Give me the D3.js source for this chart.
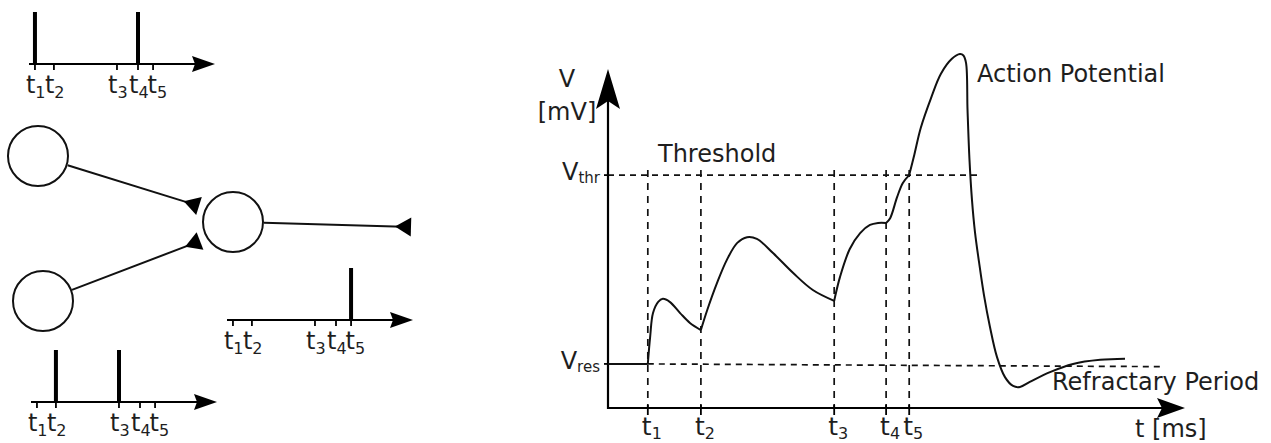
<!doctype html>
<html>
<head>
<meta charset="utf-8">
<script src="https://cdnjs.cloudflare.com/ajax/libs/d3/7.8.5/d3.min.js"></script>
<style>
  body { margin: 0; background: #fff; }
  svg { display: block; font-family: "DejaVu Sans", sans-serif; }
  text { fill: #1e1e1e; }
  .ax { stroke: #000; stroke-width: 2.2; fill: none; }
  .tick { stroke: #000; stroke-width: 1.8; }
  .dash { stroke: #111; stroke-width: 1.7; stroke-dasharray: 6 5; fill: none; }
  .vdash { stroke: #111; stroke-width: 1.7; stroke-dasharray: 7 6; fill: none; }
  .trace { stroke: #111; stroke-width: 2; fill: none; stroke-linejoin: round; }
  .neuron { fill: #fff; stroke: #111; stroke-width: 2; }
  .syn { stroke: #111; stroke-width: 2; }
  .spike { stroke: #000; stroke-width: 4; }
</style>
</head>
<body>
<svg id="fig" width="1271" height="443"></svg>
<script>
// subscripts used for every time label
var tickNames = ["1", "2", "3", "4", "5"];

// spike trains on the left (train time units, 0..100 along each axis)
var trainTimes = [3.2, 13.4, 47.3, 58.6, 66.7];
var spikesA = [0, 3];     // upper input fires at t1, t4
var spikesB = [1, 2];     // lower input fires at t2, t3
var spikesOut = [4];      // output neuron fires at t5

// membrane potential panel
var vTicks = [6.9, 16.1, 39.2, 48.2, 52.2];   // t1..t5
var vRest = 13;
var vThr = 68.7;
var traceT = [0, 6.9, 7.3, 7.8, 8.7, 9.5, 10.7, 12.5, 14.2, 16.1, 17.2, 18.9, 20.6, 22.4, 24.1,
  25.8, 28.6, 32.1, 35.5, 39.2, 40.2, 41.9, 43.7, 45.4, 46.8, 48.2, 48.9, 50.1, 51.1, 52.2,
  53.1, 54.2, 56.0, 57.7, 59.6, 61.0, 61.6, 62.05, 62.31, 62.65, 63.08, 63.6, 64.3, 65.16, 66.2,
  67.42, 68.8, 70.2, 71.4, 73.1, 76.6, 80.6, 85.3, 89.6];
var traceV = [13, 13, 20.9, 28.0, 31.3, 32.2, 31.3, 28.0, 25.1, 23.0, 28.9, 36.9, 43.7, 48.7, 50.4,
  49.9, 45.7, 39.8, 34.8, 31.6, 38.6, 46.9, 51.6, 54.0, 54.6, 54.6, 56.0, 62.2, 66.4, 68.7,
  74.8, 82.6, 91.5, 98.6, 103.0, 104.4, 104.0, 101.8, 87.9, 73.2, 61.4, 51.9, 43.1, 33.3, 23.9,
  15.0, 9.1, 6.5, 6.2, 7.7, 10.6, 13.0, 14.2, 14.5];

var svg = d3.select("#fig");

function arrow(x, y, angle, len, half, notch) {
  svg.append("path")
    .attr("d", "M0,0 L" + (-len) + "," + (-half) + " L" + (-len + notch) + ",0 L" + (-len) + "," + half + " Z")
    .attr("transform", "translate(" + x + "," + y + ") rotate(" + angle + ")")
    .attr("fill", "#000");
}

// "t" with a numeric subscript starting at x; returns the label's end
function tLabel(x, y, sub, size, subSize, dy) {
  var t = svg.append("text").attr("x", x).attr("y", y)
    .style("font-size", size + "px").text("t");
  t.append("tspan").attr("dy", dy).style("font-size", subSize + "px").text(sub);
  return x + t.node().getComputedTextLength();
}

// ---------- network: neurons and synapses ----------
var neurons = [
  { id: "A", x: 38, y: 156 },
  { id: "B", x: 43, y: 301 },
  { id: "C", x: 233, y: 222 }
];
var synapses = [
  { from: "A", ex: 199, ey: 206 },
  { from: "B", ex: 200, ey: 241 },
  { from: "C", ex: 411, ey: 227 }
];
var rN = 30;
var byId = {};
neurons.forEach(function(n) { byId[n.id] = n; });

synapses.forEach(function(s) {
  var n = byId[s.from];
  var dx = s.ex - n.x, dy = s.ey - n.y, L = Math.hypot(dx, dy);
  var ux = dx / L, uy = dy / L;
  svg.append("line").attr("class", "syn")
    .attr("x1", n.x + ux * (rN + 1)).attr("y1", n.y + uy * (rN + 1))
    .attr("x2", s.ex - ux * 8).attr("y2", s.ey - uy * 8);
  // inverted triangle: tip back along the fibre, flat base at the end
  var tipX = s.ex - ux * 16, tipY = s.ey - uy * 16;
  svg.append("path").attr("fill", "#000")
    .attr("d", "M" + tipX + "," + tipY + " L" + (s.ex - uy * 9.5) + "," + (s.ey + ux * 9.5) +
      " L" + (s.ex + uy * 9.5) + "," + (s.ey - ux * 9.5) + " Z");
});

svg.selectAll("circle.neuron").data(neurons).enter().append("circle")
  .attr("class", "neuron").attr("cx", function(d) { return d.x; })
  .attr("cy", function(d) { return d.y; }).attr("r", rN);

// ---------- spike trains ----------
var trains = [
  { x0: 29, y: 64, spikes: spikesA },
  { x0: 31, y: 402, spikes: spikesB },
  { x0: 227, y: 320, spikes: spikesOut }
];
var trainLen = 186;
trains.forEach(function(tr) {
  var sx = d3.scaleLinear().domain([0, 100]).range([tr.x0, tr.x0 + trainLen]);
  svg.append("line").attr("class", "ax").attr("x1", sx(0)).attr("x2", sx(100) - 10)
    .attr("y1", tr.y).attr("y2", tr.y);
  arrow(sx(100), tr.y, 0, 23, 8, 3);
  var prevEnd = -1e9;
  trainTimes.forEach(function(t, i) {
    svg.append("line").attr("class", "tick").attr("x1", sx(t)).attr("x2", sx(t))
      .attr("y1", tr.y).attr("y2", tr.y + 6);
    // labels run on like one typed string when ticks are close
    prevEnd = tLabel(Math.max(sx(t) - 9, prevEnd - 1), tr.y + 29, tickNames[i], 24, 16, 5);
  });
  tr.spikes.forEach(function(i) {
    svg.append("line").attr("class", "spike").attr("x1", sx(trainTimes[i])).attr("x2", sx(trainTimes[i]))
      .attr("y1", tr.y - 52).attr("y2", tr.y + 1);
  });
});

// ---------- membrane potential ----------
var x = d3.scaleLinear().domain([0, 100]).range([608, 1185]);
var y = d3.scaleLinear().domain([0, 100]).range([408, 69]);

// threshold and rest guides
svg.append("line").attr("class", "dash").attr("x1", x(0)).attr("x2", x(64.8))
  .attr("y1", y(vThr)).attr("y2", y(vThr));
svg.append("line").attr("class", "dash").attr("x1", x(vTicks[0])).attr("x2", x(95.7))
  .attr("y1", y(vRest)).attr("y2", y(vRest - 0.8));
vTicks.forEach(function(t, i) {
  svg.append("line").attr("class", "vdash").attr("x1", x(t)).attr("x2", x(t))
    .attr("y1", y(vThr) - 5).attr("y2", y(0));
  svg.append("line").attr("class", "tick").attr("x1", x(t)).attr("x2", x(t))
    .attr("y1", y(0) - 3).attr("y2", y(0) + 7);
  tLabel(x(t) - 6, 435, tickNames[i], 25, 16, 4);
});

// axes
svg.append("path").attr("class", "ax")
  .attr("d", "M" + x(0) + "," + (y(100) + 20) + " L" + x(0) + "," + y(0) + " L" + (x(100) - 12) + "," + y(0));
arrow(x(0), y(100), -90, 40, 12, 8);
arrow(x(100), y(0), 0, 28, 10, 5);
[vThr, vRest].forEach(function(v) {
  svg.append("line").attr("class", "tick").attr("x1", x(0) - 4).attr("x2", x(0))
    .attr("y1", y(v)).attr("y2", y(v));
});

// trace, split at the input times where the slope jumps
var pts = traceT.map(function(t, i) { return [t, traceV[i]]; });
var segs = [], cur = [];
pts.forEach(function(p) {
  cur.push(p);
  if (vTicks.indexOf(p[0]) >= 0 && cur.length > 1) { segs.push(cur); cur = [p]; }
});
segs.push(cur);
var line = d3.line().x(function(d) { return x(d[0]); }).y(function(d) { return y(d[1]); })
  .curve(d3.curveCatmullRom.alpha(0.5));
svg.selectAll("path.trace").data(segs).enter().append("path")
  .attr("class", "trace").attr("d", line);

// labels
svg.append("text").attr("x", x(0) - 41).attr("y", 87).attr("text-anchor", "middle")
  .style("font-size", "24px").text("V");
svg.append("text").attr("x", x(0) - 41).attr("y", 120).attr("text-anchor", "middle")
  .style("font-size", "24px").text("[mV]");
[["thr", vThr], ["res", vRest]].forEach(function(d) {
  var t = svg.append("text").attr("x", x(0) - 8).attr("y", y(d[1]) + 5).attr("text-anchor", "end")
    .style("font-size", "24px").text("V");
  t.append("tspan").attr("dy", 3).style("font-size", "15px").text(d[0]);
});
svg.append("text").attr("x", 658).attr("y", 162).style("font-size", "24px").text("Threshold");
svg.append("text").attr("x", 977).attr("y", 82).style("font-size", "24px").text("Action Potential");
svg.append("text").attr("x", 1052).attr("y", 390).style("font-size", "24px").text("Refractary Period");
svg.append("text").attr("x", 1135).attr("y", 437).style("font-size", "24px").text("t [ms]");
</script>
</body>
</html>
